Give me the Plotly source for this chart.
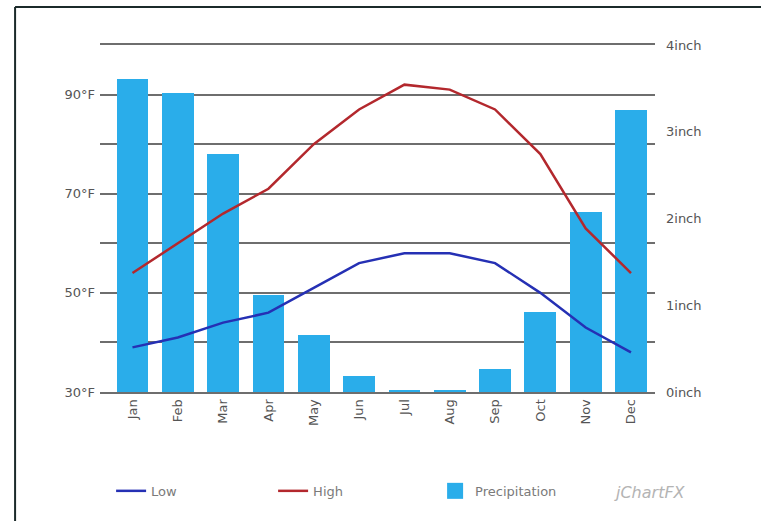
import plotly.graph_objects as go

# Monthly climate data
months = ["Jan", "Feb", "Mar", "Apr", "May", "Jun",
          "Jul", "Aug", "Sep", "Oct", "Nov", "Dec"]
precip_in = [3.61, 3.45, 2.74, 1.12, 0.66, 0.18, 0.02, 0.02, 0.27, 0.92, 2.07, 3.25]
high_f = [54, 60, 66, 71, 80, 87, 92, 91, 87, 78, 63, 54]
low_f = [39, 41, 44, 46, 51, 56, 58, 58, 56, 50, 43, 38]

temp_ticks = [30, 40, 50, 60, 70, 80, 90, 100]
temp_labels = ["30°F", "", "50°F", "", "70°F", "", "90°F", ""]
precip_ticks = [0, 1, 2, 3, 4]
precip_labels = ["0inch", "1inch", "2inch", "3inch", "4inch"]

bar_color = "#2aadea"
high_color = "#b3282d"
low_color = "#2530b4"
grid_color = "#6e6e6e"
text_color = "#555555"
font_family = "DejaVu Sans, Verdana, sans-serif"

x_idx = list(range(len(months)))

fig = go.Figure()

# precipitation bars on the primary (right-hand) axis, so the temperature
# lines on the overlaying axis are drawn above them
fig.add_trace(go.Bar(
    x=x_idx, y=precip_in, yaxis="y", width=0.70,
    marker=dict(color=bar_color, line=dict(width=0)),
    name="Precipitation", showlegend=False,
))
fig.add_trace(go.Scatter(
    x=x_idx, y=low_f, mode="lines", name="Low", yaxis="y2",
    line=dict(color=low_color, width=2.5),
))
fig.add_trace(go.Scatter(
    x=x_idx, y=high_f, mode="lines", name="High", yaxis="y2",
    line=dict(color=high_color, width=2.5),
))
# legend entry for the precipitation bars (square swatch)
fig.add_trace(go.Scatter(
    x=[None], y=[None], mode="markers", name="Precipitation", yaxis="y2",
    marker=dict(symbol="square", size=16, color=bar_color),
))

fig.update_layout(
    width=761, height=521,
    margin=dict(l=100, r=106, t=45, b=129),
    paper_bgcolor="white", plot_bgcolor="white",
    font=dict(family=font_family, size=13, color=text_color),
    bargap=0,
    xaxis=dict(
        range=[-0.717, 11.53],
        tickmode="array", tickvals=x_idx, ticktext=months,
        tickangle=-90, showgrid=False, zeroline=False,
        showline=True, mirror=True, linecolor=grid_color, linewidth=2,
        ticks="", tickfont=dict(size=13, color=text_color),
    ),
    yaxis=dict(
        range=[0, 4], side="right",
        tickmode="array", tickvals=precip_ticks, ticktext=precip_labels,
        showgrid=False, zeroline=False, showline=False, ticks="",
        ticklabelstandoff=10, tickfont=dict(size=13, color=text_color),
    ),
    yaxis2=dict(
        range=[30, 100], overlaying="y", side="left",
        tickmode="array", tickvals=temp_ticks, ticktext=temp_labels,
        showgrid=True, gridcolor=grid_color, gridwidth=2,
        zeroline=False, showline=False, ticks="",
        ticklabelstandoff=4, tickfont=dict(size=13, color=text_color),
    ),
    legend=dict(
        orientation="h", x=0.02, y=-0.285, xanchor="left", yanchor="middle",
        entrywidth=117, entrywidthmode="pixels",
        font=dict(size=13, color="#7a7a7a"), traceorder="normal",
        bgcolor="rgba(0,0,0,0)",
    ),
    shapes=[
        dict(type="line", xref="paper", yref="paper",
             x0=-0.153, x1=-0.153, y0=1.1095, y1=-0.5,
             line=dict(color="#1b2a2a", width=2)),
        dict(type="line", xref="paper", yref="paper",
             x0=-0.153, x1=1.3, y0=1.1095, y1=1.1095,
             line=dict(color="#1b2a2a", width=2)),
    ],
    annotations=[
        dict(text="<i>jChartFX</i>", xref="paper", yref="paper",
             x=(612 - 100) / 555, y=(392 - 492) / 347,
             xanchor="left", yanchor="middle", showarrow=False,
             font=dict(size=16, color="#b4b4b4", family=font_family)),
    ],
)

fig.write_html("out.html")
